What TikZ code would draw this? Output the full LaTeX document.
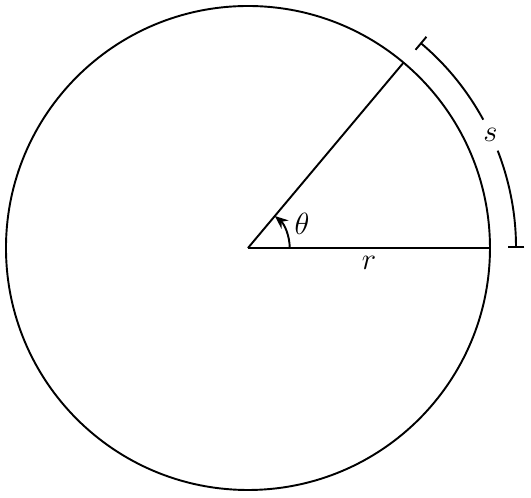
\documentclass[tikz,border=0pt]{standalone}
\usetikzlibrary{arrows.meta}
\begin{document}
\begin{tikzpicture}[line width=0.9pt, lbl/.style={font=\Large}]
\useasboundingbox (-4.099,-4.116) rectangle (4.678,4.099);
\coordinate (O) at (0,0);
\coordinate (A) at (0:4);
\coordinate (P) at (50:4);
\draw (O) circle (4);
\draw (O) -- (A) node[lbl, midway, below] {$r$};
\draw (O) -- (P);
\draw[-{Stealth[length=2.2mm,width=1.8mm]}] (0:0.69) arc (0:50:0.69);
\node[lbl] (th) at (24:0.98) {$\theta$};
\draw[{Bar[width=2.8mm]}-] (0:4.43) arc (0:21.3:4.43);
\draw[-{Bar[width=2.8mm]}] (28.6:4.43) arc (28.6:50:4.43);
\node[lbl] (s) at (25:4.42) {$s$};
\end{tikzpicture}
\end{document}
